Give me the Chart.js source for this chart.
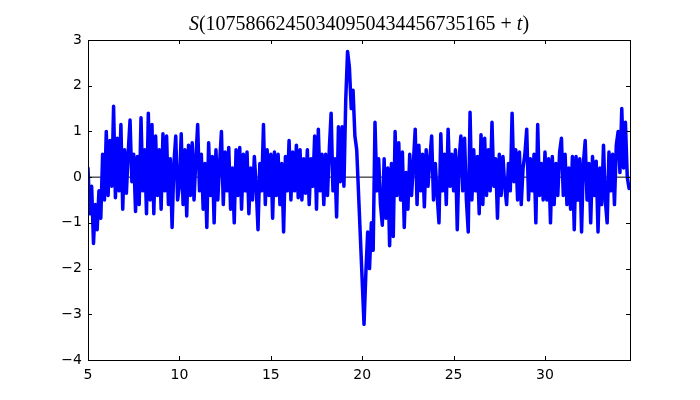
<!DOCTYPE html>
<html>
<head>
<meta charset="utf-8">
<script src="https://cdn.jsdelivr.net/npm/chart.js@4.4.0/dist/chart.umd.min.js"></script>
<style>
  html, body { margin: 0; padding: 0; background: #fff; }
  canvas { display: block; }
</style>
</head>
<body>
<canvas id="sChart" width="700" height="400"></canvas>
<script>
// sampling grid of t (one value per 0.1)
const T_START = 5.0;
const T_STEP = 0.1;
const T_MAX = 34.65;
const X_TICKS = [5, 10, 15, 20, 25, 30];
const Y_TICKS = [-4, -3, -2, -1, 0, 1, 2, 3];

// S(t) values, one row per unit of t; nulls = straight drop after the big peak
const S_VALUES = [
  0.2, -0.8, -0.2, -1.45, -0.6, -1.15, -0.3, -0.9, 0.5, -0.5,      // 5
  1.0, -0.4, 0.8, -0.2, 1.55, -0.45, 0.85, -0.3, 1.15, -0.7,       // 6
  0.6, -0.35, 0.55, 1.25, -0.1, 0.5, -0.75, 0.45, -0.6, 1.3,       // 7
  -0.3, 0.6, -0.8, 1.4, -0.5, 1.15, -0.8, 0.9, -0.4, 0.6,          // 8
  -0.7, 0.95, -0.3, 0.9, -0.6, 0.4, -1.1, 0.3, 0.9, -0.5,          // 9
  -0.2, 0.95, -0.6, 0.6, -0.85, 0.7, -0.4, 0.75, -0.5, 0.4,        // 10
  1.15, -0.3, 0.5, -0.7, 0.3, -1.1, 0.75, -0.4, 0.45, -1.0,        // 11
  0.6, -0.5, 0.3, 1.0, -0.6, 0.55, -0.3, 0.65, -0.7, 0.2,          // 12
  -1.0, 0.6, -0.4, 0.65, -0.7, 0.5, -0.3, 0.55, -0.8, 0.2,         // 13
  -0.5, 0.45, -0.2, -1.15, 0.3, -0.3, 1.15, -0.6, 0.6, -0.4,       // 14
  0.5, -0.9, 0.55, -0.4, 0.5, -0.6, 0.3, -1.2, 0.45, -0.3,         // 15
  0.8, -0.5, 0.55, -0.3, 0.7, -0.45, 0.6, -0.5, 0.4, -0.35,        // 16
  0.6, -0.6, 0.4, -0.2, 0.9, -0.7, 1.05, -0.3, 0.5, -0.6,          // 17
  0.5, -0.4, 0.6, 1.4, -0.3, 0.4, -0.87, 1.1, -0.1, 1.1,           // 18
  -0.2, 1.7, 2.75, 2.4, 1.5, 1.9, 0.9, 0.6, null, null,            // 19
  null, -3.22, -2.1, -1.2, -2.0, -1.0, -1.6, 1.2, -0.3, 0.4,       // 20
  -0.6, -1.05, 0.4, -0.9, 0.2, -1.5, 0.3, -1.3, 1.0, -0.4,         // 21
  0.75, -0.5, 0.55, -1.1, 0.1, -0.7, 0.5, -0.4, 0.3, 1.05,         // 22
  -0.6, 0.7, -0.3, 0.5, -0.65, 0.6, -0.2, 0.4, 0.9, -0.5,          // 23
  0.3, -0.4, -1.0, 0.95, -0.3, 0.5, -0.6, 1.05, -0.2, 0.5,         // 24
  -0.3, 0.6, -1.15, 0.4, 0.9, -0.3, 0.85, -0.5, -1.2, 1.42,        // 25
  -0.5, 0.6, -0.3, 0.45, -0.8, 0.93, -0.6, 0.85, -0.4, 0.6,        // 26
  -0.3, 1.2, -0.2, 0.4, -0.9, 0.5, -0.4, 0.45, -0.2, -0.6,         // 27
  0.3, -0.3, 1.4, -0.1, 0.6, -0.5, 0.55, -0.6, 0.2, 0.5,           // 28
  1.05, -0.5, 0.4, -0.3, 0.5, -1.0, 1.15, -0.4, 0.3, -0.5,         // 29
  0.55, -0.5, 0.4, -1.0, 0.45, -0.6, 0.3, -0.4, 0.55, 0.85,        // 30
  -0.4, 0.5, -0.6, 0.2, -0.7, 0.45, -1.15, 0.45, -0.5, 0.4,        // 31
  -1.2, 0.3, 0.8, -0.5, 0.3, -1.0, 0.45, -0.4, 0.35, -1.2,         // 32
  0.2, -0.6, 0.7, -0.5, -1.0, 0.55, -0.3, 0.5, -0.6, 0.7,          // 33
  1.0, 0.1, 1.5, 0.2, 1.2, 0.0, -0.25                              // 34
];

// title pieces: [text, italic]
const TITLE_PARTS = [['S', true], ['(10758662450340950434456735165', false], [' + ', false], ['t', true], [')', false]];

const points = S_VALUES.map((v, i) => ({ x: +(T_START + i * T_STEP).toFixed(2), y: v }));

function fmtNum(v) {
    return v < 0 ? '\u2212' + Math.abs(v) : String(v);
}

// box + inward ticks on all four sides (matplotlib classic look)
const framePlugin = {
    id: 'frame',
    afterDatasetsDraw(chart) {
        const { ctx, chartArea: a, scales } = chart;
        ctx.save();
        ctx.strokeStyle = '#000';
        ctx.lineWidth = 1;
        ctx.strokeRect(Math.round(a.left) + 0.5, Math.round(a.top) + 0.5,
            Math.round(a.right - a.left), Math.round(a.bottom - a.top));
        ctx.beginPath();
        X_TICKS.forEach(t => {
            const px = Math.round(scales.x.getPixelForValue(t)) + 0.5;
            ctx.moveTo(px, a.bottom); ctx.lineTo(px, a.bottom - 4);
            ctx.moveTo(px, a.top); ctx.lineTo(px, a.top + 4);
        });
        Y_TICKS.forEach(t => {
            const py = Math.round(scales.y.getPixelForValue(t)) + 0.5;
            ctx.moveTo(a.left, py); ctx.lineTo(a.left + 4, py);
            ctx.moveTo(a.right, py); ctx.lineTo(a.right - 4, py);
        });
        ctx.stroke();
        ctx.restore();
    }
};

const titlePlugin = {
    id: 'mathTitle',
    afterDraw(chart) {
        const { ctx, chartArea: a } = chart;
        ctx.save();
        ctx.fillStyle = '#000';
        ctx.textBaseline = 'alphabetic';
        const fontFor = it => (it ? 'italic ' : '') + '20px "Liberation Serif", "DejaVu Serif", serif';
        let total = 0;
        TITLE_PARTS.forEach(([txt, it]) => { ctx.font = fontFor(it); total += ctx.measureText(txt).width; });
        let x = (a.left + a.right) / 2 - total / 2;
        TITLE_PARTS.forEach(([txt, it]) => {
            ctx.font = fontFor(it);
            ctx.fillText(txt, x, 30);
            x += ctx.measureText(txt).width;
        });
        ctx.restore();
    }
};

const ctx = document.getElementById('sChart').getContext('2d');
new Chart(ctx, {
    type: 'line',
    data: {
        datasets: [
            {
                data: points,
                borderColor: 'rgb(0, 0, 255)',
                borderWidth: 3.5,
                pointRadius: 0,
                tension: 0,
                spanGaps: true,
                borderJoinStyle: 'round',
                borderCapStyle: 'round'
            },
            {
                data: [{ x: T_START, y: 0 }, { x: T_MAX, y: 0 }],
                borderColor: '#000',
                borderWidth: 1,
                pointRadius: 0
            }
        ]
    },
    options: {
        responsive: false,
        animation: false,
        events: [],
        layout: { padding: { top: 40, right: 70, left: 0, bottom: 0 } },
        plugins: {
            legend: { display: false },
            tooltip: { enabled: false },
            title: { display: false }
        },
        scales: {
            x: {
                type: 'linear',
                min: T_START,
                max: T_MAX,
                grid: { display: false, drawTicks: false },
                border: { display: false },
                ticks: {
                    stepSize: 5,
                    includeBounds: false,
                    autoSkip: false,
                    maxRotation: 0,
                    padding: 7,
                    color: '#000',
                    font: { family: '"DejaVu Sans", sans-serif', size: 14 },
                    callback: v => fmtNum(v)
                },
                afterFit: s => { s.height = 40; }
            },
            y: {
                min: -4,
                max: 3,
                grid: { display: false, drawTicks: false },
                border: { display: false },
                ticks: {
                    stepSize: 1,
                    padding: 6,
                    color: '#000',
                    font: { family: '"DejaVu Sans", sans-serif', size: 14 },
                    callback: v => fmtNum(v)
                },
                afterFit: s => { s.width = 88; }
            }
        }
    },
    plugins: [framePlugin, titlePlugin]
});
</script>
</body>
</html>
